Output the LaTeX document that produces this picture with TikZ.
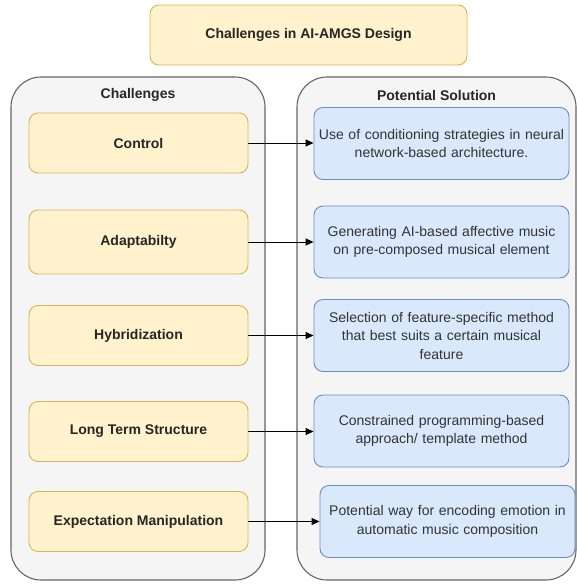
\documentclass[tikz,border=0pt]{standalone}
\usepackage{fontspec}
\setmainfont{Liberation Sans}
\usetikzlibrary{arrows.meta, positioning}
\definecolor{ylwfill}{HTML}{FFF2CC}
\definecolor{ylwdraw}{HTML}{D6B656}
\definecolor{blufill}{HTML}{DAE8FC}
\definecolor{bludraw}{HTML}{6C8EBF}
\definecolor{lanefill}{HTML}{F5F5F5}
\definecolor{lanedraw}{HTML}{666666}
\definecolor{soltext}{HTML}{333333}

\begin{document}
\begin{tikzpicture}[x=1pt,y=-1pt,
    lane/.style={draw=lanedraw, fill=lanefill, line width=1.1pt, rounded corners=30pt,
      minimum height=503pt, inner sep=0pt},
    lanetitle/.style={font=\fontsize{14}{17}\selectfont\bfseries, text=black!85},
    challenge/.style={draw=ylwdraw, fill=ylwfill, line width=0.9pt, rounded corners=9pt,
      minimum width=219pt, minimum height=60pt, inner sep=0pt,
      font=\fontsize{14}{17}\selectfont\bfseries, text=black!85},
    solution/.style={draw=bludraw, fill=blufill, line width=0.9pt, rounded corners=9pt,
      minimum width=255pt, minimum height=72pt, inner sep=0pt, text width=253pt, align=center,
      font=\fontsize{14}{18.5}\selectfont, text=soltext},
    link/.style={-{Triangle[length=8pt,width=7pt]}, line width=1pt}]
    \useasboundingbox (0,0) rectangle (577,584);
    \node[challenge, minimum width=317pt] (title) at (308.5,35) {Challenges in AI-AMGS Design};
    \node[lane, minimum width=254pt] (leftlane) at (138,328.5) {};
    \node[lane, minimum width=279pt] (rightlane) at (436.5,328.5) {};
    \node[lanetitle] (lefttitle) at (138,95) {Challenges};
    \node[lanetitle] (righttitle) at (436.5,95) {Potential Solution};
    \node[challenge] (control) at (138.5,143) {Control};
    \node[challenge, minimum height=64pt] (adapt) at (138.5,242) {Adaptabilty};
    \node[challenge] (hybrid) at (138.5,335.5) {Hybridization};
    \node[challenge] (longterm) at (138.5,431.5) {Long Term Structure};
    \node[challenge] (expect) at (138.5,521.5) {Expectation Manipulation};
    \node[solution] (sol1) at (441.5,143.5) {Use of conditioning strategies in neural\\network-based architecture.};
    \node[solution] (sol2) at (441.5,242) {Generating AI-based affective music\\on pre-composed musical element};
    \node[solution] (sol3) at (441.5,335.5) {Selection of feature-specific method\\that best suits a certain musical\\feature};
    \node[solution] (sol4) at (441.5,431) {Constrained programming-based\\approach/ template method};
    \node[solution] (sol5) at (447.5,521.5) {Potential way for encoding emotion in\\automatic music composition};
    \draw[link] (control.east) -- (control.east -| sol1.west);
    \draw[link] (adapt.east) -- (adapt.east -| sol2.west);
    \draw[link] (hybrid.east) -- (hybrid.east -| sol3.west);
    \draw[link] (longterm.east) -- (longterm.east -| sol4.west);
    \draw[link] (expect.east) -- (expect.east -| sol5.west);
\end{tikzpicture}
\end{document}
